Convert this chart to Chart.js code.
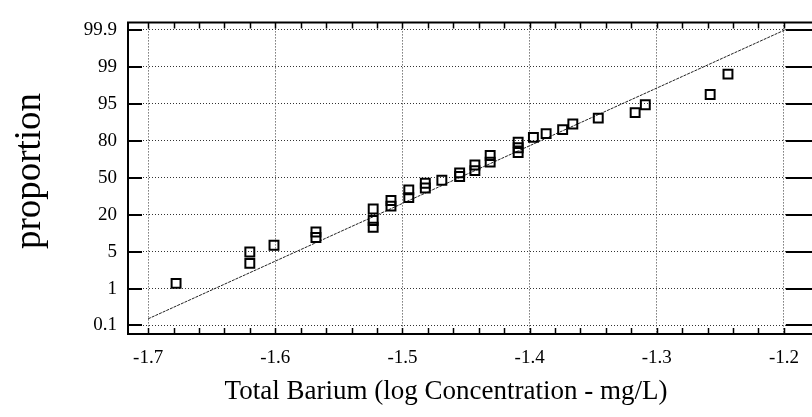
<!DOCTYPE html>
<html>
<head>
<meta charset="utf-8">
<script src="https://cdn.jsdelivr.net/npm/chart.js@4/dist/chart.umd.min.js"></script>
<style>
  html, body { margin: 0; padding: 0; background: #fff; }
  #wrap { width: 812px; height: 417px; position: relative; }
</style>
</head>
<body>
<div id="wrap"><canvas id="chart"></canvas></div>
<script>
// x: log concentration, y: position on the probability axis (0 = 0.1%, 8 = 99.9%)
const xTicks = [-1.7, -1.6, -1.5, -1.4, -1.3, -1.2];
const yTickLabels = ["0.1", "1", "5", "20", "50", "80", "95", "99", "99.9"];

const logConc = [
  -1.678, -1.620, -1.620, -1.601, -1.568, -1.568,
  -1.523, -1.523, -1.523, -1.509, -1.509, -1.495, -1.495,
  -1.482, -1.482, -1.469, -1.455, -1.455, -1.443, -1.443,
  -1.431, -1.431, -1.409, -1.409, -1.409, -1.397, -1.387,
  -1.374, -1.366, -1.346, -1.317, -1.309, -1.258, -1.244
];
const probPos = [
  1.14, 1.99, 1.68, 2.17, 2.53, 2.38,
  3.15, 2.84, 2.66, 3.38, 3.23, 3.67, 3.46,
  3.85, 3.72, 3.93, 4.13, 4.03, 4.34, 4.19,
  4.60, 4.42, 4.96, 4.81, 4.68, 5.09, 5.19,
  5.30, 5.45, 5.61, 5.76, 5.97, 6.25, 6.80
];

// fitted normal line
const fitX = [-1.7, -1.199];
const fitY = [0.18, 8.0];

const SERIF = "'Liberation Serif', 'Times New Roman', serif";

// frame, tick marks and axis titles
const frame = {
  id: "frame",
  afterDraw(chart) {
    const { ctx, chartArea: a, scales: { x, y } } = chart;
    ctx.save();
    ctx.strokeStyle = "#000";
    ctx.lineWidth = 2;
    ctx.beginPath();
    ctx.moveTo(chart.width, a.top);
    ctx.lineTo(a.left, a.top);
    ctx.lineTo(a.left, a.bottom);
    ctx.lineTo(chart.width, a.bottom);
    yTickLabels.forEach((_, i) => {
      const py = Math.round(y.getPixelForValue(i));
      ctx.moveTo(a.left, py); ctx.lineTo(a.left + 14, py);
      ctx.moveTo(a.right, py); ctx.lineTo(chart.width, py);
    });
    ctx.stroke();

    ctx.lineWidth = 1.5;
    ctx.beginPath();
    for (let k = 0; k <= 25; k++) {
      const px = Math.round(x.getPixelForValue(-1.7 + k * 0.02)) + 0.5;
      ctx.moveTo(px, a.bottom); ctx.lineTo(px, a.bottom - 6);
      ctx.moveTo(px, a.top); ctx.lineTo(px, a.top + 6);
    }
    ctx.stroke();

    ctx.fillStyle = "#000";
    ctx.textAlign = "center";
    ctx.textBaseline = "middle";
    ctx.font = "27px " + SERIF;
    ctx.fillText("Total Barium (log Concentration - mg/L)", 446, 392);

    ctx.translate(30, 171);
    ctx.rotate(-Math.PI / 2);
    ctx.font = "37px " + SERIF;
    ctx.fillText("proportion", 0, 0);
    ctx.restore();
  }
};

new Chart(document.getElementById("chart"), {
  type: "scatter",
  data: {
    datasets: [
      {
        label: "observed",
        data: logConc.map((v, i) => ({ x: v, y: probPos[i] })),
        pointStyle: "rect",
        pointRadius: 6.3,
        borderColor: "#000",
        backgroundColor: "rgba(0,0,0,0)",
        borderWidth: 2,
        showLine: false
      },
      {
        label: "fit",
        data: fitX.map((v, i) => ({ x: v, y: fitY[i] })),
        showLine: true,
        pointRadius: 0,
        borderColor: "#222",
        borderWidth: 1,
        borderDash: [3, 1]
      }
    ]
  },
  options: {
    responsive: true,
    maintainAspectRatio: false,
    animation: false,
    layout: { padding: { top: 8, right: 12, left: 0, bottom: 0 } },
    plugins: { legend: { display: false }, tooltip: { enabled: false } },
    scales: {
      x: {
        type: "linear",
        min: -1.7158,
        max: -1.1985,
        afterBuildTicks: s => { s.ticks = xTicks.map(v => ({ value: v })); },
        afterFit: s => { s.height = 83; },
        grid: { color: "#333", lineWidth: 1, drawTicks: false },
        border: { display: false, dash: [1, 2] },
        ticks: {
          padding: 13,
          color: "#000",
          font: { family: SERIF, size: 19 },
          callback: v => v.toFixed(1)
        }
      },
      y: {
        type: "linear",
        min: -0.23,
        max: 8.2,
        afterBuildTicks: s => { s.ticks = yTickLabels.map((_, i) => ({ value: i })); },
        afterFit: s => { s.width = 128; },
        grid: { color: "#333", lineWidth: 1, drawTicks: false },
        border: { display: false, dash: [1, 2] },
        ticks: {
          padding: 11,
          color: "#000",
          font: { family: SERIF, size: 19 },
          callback: v => yTickLabels[Math.round(v)]
        }
      }
    }
  },
  plugins: [frame]
});
</script>
</body>
</html>
